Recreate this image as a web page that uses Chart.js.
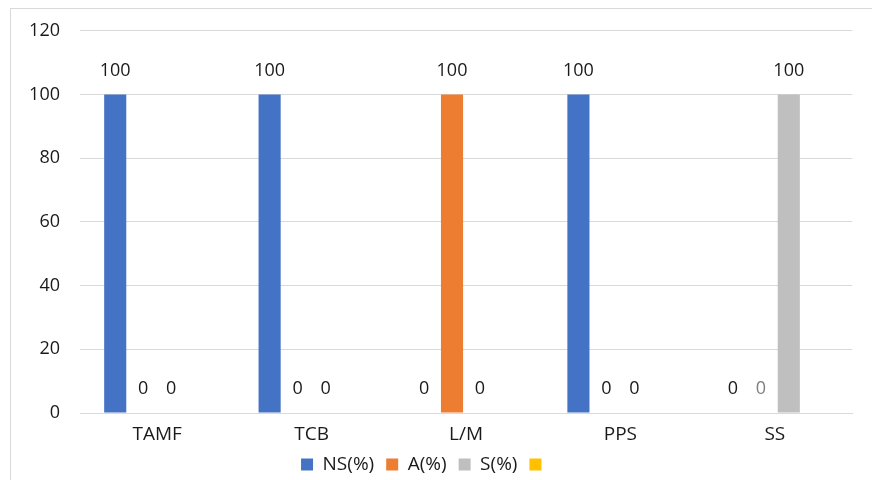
<!DOCTYPE html>
<html>
<head>
<meta charset="utf-8">
<script src="https://cdn.jsdelivr.net/npm/chart.js@4.4.0/dist/chart.umd.min.js"></script>
<style>
  html, body { margin: 0; padding: 0; background: #fff; }
  #wrap { position: relative; width: 872px; height: 480px; overflow: hidden; }
  #frame { position: absolute; left: 10px; top: 8px; width: 900px; height: 500px; border: 1px solid #d9d9d9; }
  #myChart { position: absolute; left: 0; top: 0; }
</style>
</head>
<body>
<div id="wrap">
  <div id="frame"></div>
  <canvas id="myChart" width="872" height="480"></canvas>
</div>
<script>
// данные
const categories = ['TAMF', 'TCB', 'L/M', 'PPS', 'SS'];
const seriesNames = ['NS(%)', 'A(%)', 'S(%)', ''];
const nsValues = [100, 100, 0, 100, 0];
const aValues = [0, 0, 100, 0, 0];
const sValues = [0, 0, 0, 0, 100];
const emptyValues = [null, null, null, null, null];
const yTicks = [0, 20, 40, 60, 80, 100, 120];

const FONT = '"Open Sans", "Noto Sans", sans-serif';
const TEXT = '#1a1a1a';

// подписи значений над столбцами
const valueLabels = {
  id: 'valueLabels',
  afterDatasetsDraw(chart) {
    const c = chart.ctx;
    c.save();
    c.font = '18px ' + FONT;
    c.textAlign = 'center';
    c.textBaseline = 'middle';
    chart.data.datasets.forEach(function(ds, i) {
      const meta = chart.getDatasetMeta(i);
      if (meta.hidden) return;
      meta.data.forEach(function(bar, j) {
        const v = ds.data[j];
        if (v === null || v === undefined) return;
        const col = Array.isArray(ds.labelColor) ? ds.labelColor[j] : ds.labelColor;
        c.fillStyle = col || TEXT;
        c.fillText(String(v), bar.x, bar.y - 24);
      });
    });
    c.restore();
  }
};

const ctx = document.getElementById('myChart').getContext('2d');
const myChart = new Chart(ctx, {
  type: 'bar',
  data: {
    labels: categories,
    datasets: [
      { label: seriesNames[0], data: nsValues, backgroundColor: '#4472C4', labelColor: TEXT },
      { label: seriesNames[1], data: aValues, backgroundColor: '#ED7D31',
        labelColor: [TEXT, TEXT, TEXT, TEXT, '#7f7f7f'] },
      { label: seriesNames[2], data: sValues, backgroundColor: '#BFBFBF', labelColor: TEXT },
      { label: seriesNames[3], data: emptyValues, backgroundColor: '#FFC000' }
    ]
  },
  options: {
    responsive: false,
    animation: false,
    categoryPercentage: 0.725,
    barPercentage: 0.79,
    layout: { padding: { top: 28, right: 20, left: 0, bottom: -4 } },
    plugins: {
      tooltip: { enabled: false },
      title: { display: false },
      legend: {
        display: true,
        position: 'bottom',
        labels: {
          font: { family: FONT, size: 19 },
          color: TEXT,
          boxWidth: 12,
          boxHeight: 12,
          padding: 12
        }
      }
    },
    scales: {
      x: {
        grid: { display: false, drawTicks: false },
        border: { display: true, color: '#d9d9d9', width: 1 },
        ticks: { font: { family: FONT, size: 19 }, color: TEXT, padding: 10 },
        afterFit: function(scale) { scale.height = 30; }
      },
      y: {
        min: 0,
        max: 120,
        afterBuildTicks: function(scale) { scale.ticks = yTicks.map(function(v) { return { value: v }; }); },
        grid: { color: '#d9d9d9', drawTicks: false },
        border: { display: false },
        ticks: { font: { family: FONT, size: 18 }, color: TEXT, padding: 20 },
        afterFit: function(scale) { scale.width = 80; }
      }
    }
  },
  plugins: [valueLabels]
});
</script>
</body>
</html>
